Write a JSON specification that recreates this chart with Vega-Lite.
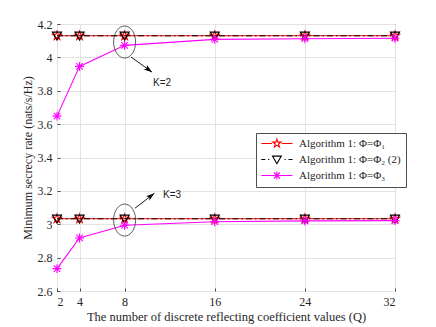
{
  "$schema": "https://vega.github.io/schema/vega-lite/v6.json",
  "width": 338,
  "height": 267,
  "autosize": "none",
  "padding": {"left": 57, "top": 24, "right": 41, "bottom": 36},
  "background": "white",
  "config": {
    "view": {"stroke": "#4d4d4d", "strokeWidth": 1},
    "axis": {
      "labelFont": "Liberation Serif",
      "labelFontSize": 12,
      "labelColor": "#262626",
      "titleFont": "Liberation Serif",
      "titleFontSize": 12.5,
      "titleFontWeight": "normal",
      "titleColor": "#262626",
      "gridColor": "#e3e3e3",
      "gridWidth": 1,
      "domain": false,
      "ticks": true,
      "tickSize": -3,
      "tickColor": "#4d4d4d",
      "labelPadding": 8,
      "labelOverlap": false
    }
  },
  "datasets": {
    "rates": [
      {"Q": 2, "rate": 4.13, "series": "Algorithm 1: Φ=Φ₁", "K": "K=2"},
      {"Q": 4, "rate": 4.13, "series": "Algorithm 1: Φ=Φ₁", "K": "K=2"},
      {"Q": 8, "rate": 4.13, "series": "Algorithm 1: Φ=Φ₁", "K": "K=2"},
      {"Q": 16, "rate": 4.13, "series": "Algorithm 1: Φ=Φ₁", "K": "K=2"},
      {"Q": 24, "rate": 4.13, "series": "Algorithm 1: Φ=Φ₁", "K": "K=2"},
      {"Q": 32, "rate": 4.13, "series": "Algorithm 1: Φ=Φ₁", "K": "K=2"},
      {"Q": 2, "rate": 3.033, "series": "Algorithm 1: Φ=Φ₁", "K": "K=3"},
      {"Q": 4, "rate": 3.033, "series": "Algorithm 1: Φ=Φ₁", "K": "K=3"},
      {"Q": 8, "rate": 3.033, "series": "Algorithm 1: Φ=Φ₁", "K": "K=3"},
      {"Q": 16, "rate": 3.033, "series": "Algorithm 1: Φ=Φ₁", "K": "K=3"},
      {"Q": 24, "rate": 3.033, "series": "Algorithm 1: Φ=Φ₁", "K": "K=3"},
      {"Q": 32, "rate": 3.033, "series": "Algorithm 1: Φ=Φ₁", "K": "K=3"},
      {"Q": 2, "rate": 4.13, "series": "Algorithm 1: Φ=Φ₂ (2)", "K": "K=2"},
      {"Q": 4, "rate": 4.13, "series": "Algorithm 1: Φ=Φ₂ (2)", "K": "K=2"},
      {"Q": 8, "rate": 4.13, "series": "Algorithm 1: Φ=Φ₂ (2)", "K": "K=2"},
      {"Q": 16, "rate": 4.13, "series": "Algorithm 1: Φ=Φ₂ (2)", "K": "K=2"},
      {"Q": 24, "rate": 4.13, "series": "Algorithm 1: Φ=Φ₂ (2)", "K": "K=2"},
      {"Q": 32, "rate": 4.13, "series": "Algorithm 1: Φ=Φ₂ (2)", "K": "K=2"},
      {"Q": 2, "rate": 3.033, "series": "Algorithm 1: Φ=Φ₂ (2)", "K": "K=3"},
      {"Q": 4, "rate": 3.033, "series": "Algorithm 1: Φ=Φ₂ (2)", "K": "K=3"},
      {"Q": 8, "rate": 3.033, "series": "Algorithm 1: Φ=Φ₂ (2)", "K": "K=3"},
      {"Q": 16, "rate": 3.033, "series": "Algorithm 1: Φ=Φ₂ (2)", "K": "K=3"},
      {"Q": 24, "rate": 3.033, "series": "Algorithm 1: Φ=Φ₂ (2)", "K": "K=3"},
      {"Q": 32, "rate": 3.033, "series": "Algorithm 1: Φ=Φ₂ (2)", "K": "K=3"},
      {"Q": 2, "rate": 3.648, "series": "Algorithm 1: Φ=Φ₃", "K": "K=2"},
      {"Q": 4, "rate": 3.946, "series": "Algorithm 1: Φ=Φ₃", "K": "K=2"},
      {"Q": 8, "rate": 4.072, "series": "Algorithm 1: Φ=Φ₃", "K": "K=2"},
      {"Q": 16, "rate": 4.108, "series": "Algorithm 1: Φ=Φ₃", "K": "K=2"},
      {"Q": 24, "rate": 4.112, "series": "Algorithm 1: Φ=Φ₃", "K": "K=2"},
      {"Q": 32, "rate": 4.115, "series": "Algorithm 1: Φ=Φ₃", "K": "K=2"},
      {"Q": 2, "rate": 2.734, "series": "Algorithm 1: Φ=Φ₃", "K": "K=3"},
      {"Q": 4, "rate": 2.918, "series": "Algorithm 1: Φ=Φ₃", "K": "K=3"},
      {"Q": 8, "rate": 2.994, "series": "Algorithm 1: Φ=Φ₃", "K": "K=3"},
      {"Q": 16, "rate": 3.015, "series": "Algorithm 1: Φ=Φ₃", "K": "K=3"},
      {"Q": 24, "rate": 3.02, "series": "Algorithm 1: Φ=Φ₃", "K": "K=3"},
      {"Q": 32, "rate": 3.022, "series": "Algorithm 1: Φ=Φ₃", "K": "K=3"}
    ],
    "ellipses": [
      {"Q": 8, "rate": 4.092, "K": "K=2"},
      {"Q": 8, "rate": 3.025, "K": "K=3"}
    ],
    "arrows": [
      {"K": "K=2", "Q": 8.57, "rate": 4.002, "Q2": 10.43, "rate2": 3.912, "hx": 10.14, "hy": 3.926},
      {"K": "K=3", "Q": 8.92, "rate": 3.096, "Q2": 10.64, "rate2": 3.185, "hx": 10.35, "hy": 3.170}
    ],
    "labels": [
      {"K": "K=2", "Q": 11.32, "rate": 3.846},
      {"K": "K=3", "Q": 12.21, "rate": 3.178}
    ]
  },
  "layer": [
    {
      "data": {"name": "rates"},
      "transform": [{"filter": "datum.series === 'Algorithm 1: Φ=Φ₁'"}],
      "mark": {"type": "line", "color": "#ff0000", "strokeWidth": 1.1},
      "encoding": {
        "x": {"field": "Q", "type": "quantitative", "scale": {"domain": [2, 32], "nice": false},
          "axis": {"values": [2, 4, 8, 16, 24, 32], "title": "The number of discrete reflecting coefficient values (Q)", "titlePadding": 3, "grid": true}},
        "y": {"field": "rate", "type": "quantitative", "scale": {"domain": [2.6, 4.2], "nice": false, "zero": false},
          "axis": {"values": [2.6, 2.8, 3.0, 3.2, 3.4, 3.6, 3.8, 4.0, 4.2], "tickCount": 9, "labelOverlap": false, "format": ".1~f", "title": "Minimum secrecy rate (nats/s/Hz)", "titleFontSize": 12, "titlePadding": 3, "grid": true}},
        "detail": {"field": "K"}
      }
    },
    {
      "data": {"name": "rates"},
      "transform": [{"filter": "datum.series === 'Algorithm 1: Φ=Φ₂ (2)'"}],
      "mark": {"type": "line", "color": "#000000", "strokeWidth": 1.1, "strokeDash": [6, 3, 1.5, 3]},
      "encoding": {
        "x": {"field": "Q", "type": "quantitative"},
        "y": {"field": "rate", "type": "quantitative"},
        "detail": {"field": "K"}
      }
    },
    {
      "data": {"name": "rates"},
      "transform": [{"filter": "datum.series === 'Algorithm 1: Φ=Φ₃'"}],
      "mark": {"type": "line", "color": "#ff00ff", "strokeWidth": 1.1},
      "encoding": {
        "x": {"field": "Q", "type": "quantitative"},
        "y": {"field": "rate", "type": "quantitative"},
        "detail": {"field": "K"}
      }
    },
    {
      "data": {"name": "rates"},
      "transform": [{"filter": "datum.series === 'Algorithm 1: Φ=Φ₁'"}],
      "mark": {"type": "point", "filled": false, "strokeWidth": 1.1, "size": 90, "opacity": 1, "color": "#ff0000",
        "shape": "M0 -1L0.2245 -0.309L0.951 -0.309L0.363 0.118L0.588 0.809L0 0.382L-0.588 0.809L-0.363 0.118L-0.951 -0.309L-0.2245 -0.309Z"},
      "encoding": {
        "x": {"field": "Q", "type": "quantitative"},
        "y": {"field": "rate", "type": "quantitative"}
      }
    },
    {
      "data": {"name": "rates"},
      "transform": [{"filter": "datum.series === 'Algorithm 1: Φ=Φ₂ (2)'"}],
      "mark": {"type": "point", "filled": false, "strokeWidth": 1.2, "size": 90, "opacity": 1, "color": "#000000",
        "shape": "M-0.95 -0.75L0.95 -0.75L0 0.9Z"},
      "encoding": {
        "x": {"field": "Q", "type": "quantitative"},
        "y": {"field": "rate", "type": "quantitative"}
      }
    },
    {
      "data": {"name": "rates"},
      "transform": [{"filter": "datum.series === 'Algorithm 1: Φ=Φ₃'"}],
      "mark": {"type": "point", "filled": false, "strokeWidth": 1.1, "size": 80, "opacity": 1, "color": "#ff00ff",
        "shape": "M-1 0L1 0M0 -1L0 1M-0.72 -0.72L0.72 0.72M-0.72 0.72L0.72 -0.72"},
      "encoding": {
        "x": {"field": "Q", "type": "quantitative"},
        "y": {"field": "rate", "type": "quantitative"}
      }
    },
    {
      "data": {"name": "rates"},
      "mark": {"type": "point", "filled": false, "strokeWidth": 1.1, "opacity": 0},
      "encoding": {
        "x": {"field": "Q", "type": "quantitative"},
        "y": {"field": "rate", "type": "quantitative"},
        "color": {"field": "series", "type": "nominal",
          "scale": {"domain": ["Algorithm 1: Φ=Φ₁", "Algorithm 1: Φ=Φ₂ (2)", "Algorithm 1: Φ=Φ₃"], "range": ["#ff0000", "#000000", "#ff00ff"]},
          "legend": {
            "title": null,
            "orient": "none",
            "legendX": 199,
            "legendY": 109,
            "strokeColor": "#4d4d4d",
            "fillColor": "white",
            "padding": 5,
            "rowPadding": 3,
            "symbolSize": 64,
            "labelOffset": 27,
            "labelFont": "Liberation Serif",
            "labelFontSize": 11,
            "labelColor": "#262626",
            "symbolStrokeWidth": 1.1,
            "symbolOpacity": 1
          }},
        "shape": {"field": "series", "type": "nominal",
          "scale": {"domain": ["Algorithm 1: Φ=Φ₁", "Algorithm 1: Φ=Φ₂ (2)", "Algorithm 1: Φ=Φ₃"],
            "range": [
              "M-1.3 0L1.4 0M3.8 0L6.5 0M2.6 -1.1L2.847 -0.34L3.646 -0.34L3.0 0.13L3.247 0.89L2.6 0.42L1.953 0.89L2.2 0.13L1.554 -0.34L2.353 -0.34Z",
              "M-1.3 0L-0.3 0M0.4 0L0.7 0M4.5 0L4.8 0M5.5 0L6.5 0M1.5 -0.85L3.7 -0.85L2.6 1.05Z",
              "M-1.3 0L6.5 0M2.6 -1L2.6 1M1.85 -0.75L3.35 0.75M1.85 0.75L3.35 -0.75"
            ]},
          "legend": {
            "title": null,
            "orient": "none",
            "legendX": 199,
            "legendY": 109,
            "strokeColor": "#4d4d4d",
            "fillColor": "white",
            "padding": 5,
            "rowPadding": 3,
            "symbolSize": 64,
            "labelOffset": 27,
            "labelFont": "Liberation Serif",
            "labelFontSize": 11,
            "labelColor": "#262626",
            "symbolStrokeWidth": 1.1,
            "symbolOpacity": 1
          }}
      }
    },
    {
      "data": {"name": "ellipses"},
      "mark": {"type": "point", "shape": "M-0.6875 0A0.6875 1 0 1 0 0.6875 0A0.6875 1 0 1 0 -0.6875 0Z", "size": 1024, "filled": false, "color": "#333333", "strokeWidth": 0.8, "opacity": 1},
      "encoding": {
        "x": {"field": "Q", "type": "quantitative"},
        "y": {"field": "rate", "type": "quantitative"}
      }
    },
    {
      "data": {"name": "arrows"},
      "mark": {"type": "rule", "color": "#000000", "strokeWidth": 0.9},
      "encoding": {
        "x": {"field": "Q", "type": "quantitative"},
        "y": {"field": "rate", "type": "quantitative"},
        "x2": {"field": "Q2"},
        "y2": {"field": "rate2"}
      }
    },
    {
      "data": {"name": "arrows"},
      "transform": [{"filter": "datum.K === 'K=2'"}],
      "mark": {"type": "point", "shape": "M1 0L-1 -0.65L-0.55 0L-1 0.65Z", "size": 70, "filled": true, "color": "#000000", "opacity": 1, "angle": 35.5},
      "encoding": {
        "x": {"field": "hx", "type": "quantitative"},
        "y": {"field": "hy", "type": "quantitative"}
      }
    },
    {
      "data": {"name": "arrows"},
      "transform": [{"filter": "datum.K === 'K=3'"}],
      "mark": {"type": "point", "shape": "M1 0L-1 -0.65L-0.55 0L-1 0.65Z", "size": 70, "filled": true, "color": "#000000", "opacity": 1, "angle": 322},
      "encoding": {
        "x": {"field": "hx", "type": "quantitative"},
        "y": {"field": "hy", "type": "quantitative"}
      }
    },
    {
      "data": {"name": "labels"},
      "mark": {"type": "text", "font": "Liberation Sans", "fontSize": 10, "color": "#222222", "align": "center", "baseline": "middle"},
      "encoding": {
        "x": {"field": "Q", "type": "quantitative"},
        "y": {"field": "rate", "type": "quantitative"},
        "text": {"field": "K"}
      }
    }
  ]
}
